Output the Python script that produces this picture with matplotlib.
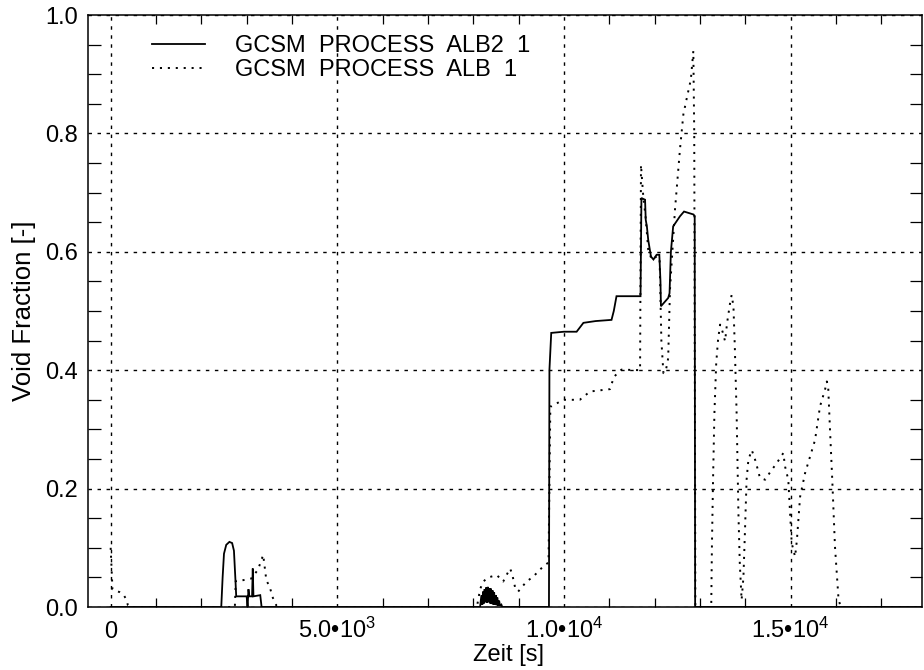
import matplotlib
matplotlib.use('Agg')
import matplotlib.pyplot as plt
from matplotlib.ticker import FixedLocator, MultipleLocator, FuncFormatter

plt.rcParams['font.family'] = ['Liberation Sans', 'DejaVu Sans']
plt.rcParams['mathtext.fontset'] = 'custom'
plt.rcParams['mathtext.rm'] = 'Liberation Sans'
plt.rcParams['mathtext.it'] = 'Liberation Sans'
plt.rcParams['mathtext.bf'] = 'Liberation Sans:bold'
plt.rcParams['lines.scale_dashes'] = False

# ---------------- data ----------------
label_alb2 = 'GCSM  PROCESS  ALB2  1'
label_alb = 'GCSM  PROCESS  ALB  1'

t_alb2 = [0, 2440, 2470, 2500, 2550, 2620, 2680, 2720, 2750, 2770, 2800,
          3000, 3020, 3040, 3060, 3120, 3135, 3150, 3300, 3330, 3350,
          8150, 8180, 8200, 8215, 8235, 8250, 8270, 8285, 8305, 8320, 8340,
          8355, 8375, 8390, 8410, 8425, 8445, 8460, 8480, 8495, 8515, 8530,
          8550, 8570, 8590, 8620, 8640,
          9670, 9680, 9720, 10000, 10280, 10350, 10430, 10700, 11050, 11100,
          11160, 11400, 11690, 11710, 11730, 11790, 11805, 11830, 11860,
          11920, 11975, 12045, 12105, 12130, 12140, 12300, 12330, 12360,
          12410, 12560, 12650, 12860, 12885, 12895, 17900]
v_alb2 = [0.0, 0.0, 0.05, 0.09, 0.105, 0.11, 0.108, 0.095, 0.05, 0.018, 0.018,
          0.018, 0.0, 0.03, 0.018, 0.018, 0.065, 0.018, 0.02, 0.0, 0.0,
          0.0, 0.02, 0.004, 0.026, 0.006, 0.03, 0.008, 0.033, 0.007, 0.034,
          0.008, 0.032, 0.006, 0.031, 0.005, 0.028, 0.004, 0.025, 0.004,
          0.02, 0.003, 0.016, 0.002, 0.011, 0.002, 0.004, 0.0,
          0.0, 0.40, 0.463, 0.465, 0.465, 0.472, 0.480, 0.483, 0.485, 0.50,
          0.525, 0.525, 0.525, 0.691, 0.69, 0.688, 0.654, 0.643, 0.62,
          0.592, 0.587, 0.595, 0.595, 0.55, 0.508, 0.522, 0.53, 0.60,
          0.643, 0.66, 0.668, 0.663, 0.66, 0.0, 0.0]

t_alb = [0, 40, 200, 290, 350, 380, 420, 2740, 2760, 2900, 3100, 3250, 3365, 3435,
         3510, 3570, 3660, 3700, 8080, 8150, 8220, 8330, 8430, 8515, 8600,
         8660, 8735, 8810, 8850, 8880, 8920, 8990, 9175, 9320, 9470, 9580,
         9660, 9700, 9730, 9980, 10350, 10575, 11015, 11105, 11270, 11680,
         11700, 11750, 11800, 11860, 11935, 12045, 12110, 12150, 12195,
         12250, 12300, 12340, 12450, 12560, 12635, 12720, 12800, 12855,
         12875, 12900, 13250, 13265, 13290, 13320, 13360, 13400, 13445,
         13500, 13555, 13600, 13665, 13700, 13740, 13770, 13810, 13850,
         13880, 13920, 13960, 13995, 14030, 14070, 14145, 14230, 14325,
         14440, 14560, 14695, 14840, 14880, 14950, 14990, 15025, 15100,
         15140, 15210, 15320, 15430, 15540, 15650, 15760, 15800, 15830,
         15870, 15920, 15980, 16055, 16100, 17900]
v_alb = [0.10, 0.03, 0.025, 0.02, 0.012, 0.003, 0.0, 0.0, 0.044, 0.045, 0.048, 0.063,
         0.088, 0.045, 0.034, 0.017, 0.002, 0.0, 0.0, 0.03, 0.043, 0.05,
         0.052, 0.054, 0.048, 0.043, 0.054, 0.065, 0.058, 0.048, 0.034,
         0.026, 0.043, 0.051, 0.063, 0.071, 0.075, 0.339, 0.339, 0.35, 0.35,
         0.364, 0.368, 0.389, 0.401, 0.40, 0.747, 0.694, 0.66, 0.604, 0.587,
         0.592, 0.59, 0.45, 0.395, 0.40, 0.42, 0.536, 0.671, 0.773, 0.832,
         0.863, 0.891, 0.939, 0.80, 0.0, 0.0, 0.102, 0.215, 0.327, 0.412,
         0.451, 0.477, 0.465, 0.449, 0.48, 0.513, 0.527, 0.508, 0.44, 0.327,
         0.158, 0.074, 0.012, 0.05, 0.13, 0.215, 0.249, 0.265, 0.246, 0.218,
         0.215, 0.229, 0.243, 0.26, 0.237, 0.215, 0.158, 0.108, 0.085, 0.113,
         0.186, 0.226, 0.254, 0.282, 0.339, 0.367, 0.381, 0.372, 0.30, 0.215,
         0.102, 0.017, 0.0, 0.0]

xtick_vals = [0, 5000, 10000, 15000]
xtick_labels = ['0', '5.0•10$^{3}$', '1.0•10$^{4}$', '1.5•10$^{4}$']
ytick_vals = [0.0, 0.2, 0.4, 0.6, 0.8, 1.0]
ytick_labels = ['0.0', '0.2', '0.4', '0.6', '0.8', '1.0']
x_label = 'Zeit [s]'
y_label = 'Void Fraction [-]'

# ---------------- figure ----------------
FS = 17
fig = plt.figure(figsize=(9.24, 6.70), dpi=100)
ax = fig.add_axes([88 / 924, 63 / 670, 834 / 924, 592 / 670])

ax.plot(t_alb2, v_alb2, color='black', lw=1.3, label=label_alb2,
        solid_joinstyle='miter', zorder=3)
ax.plot(t_alb, v_alb, color='black', lw=1.4, linestyle=(0, (1.5, 4.2)),
        label=label_alb, zorder=3)

ax.set_xlim(-500, 17900)
ax.set_ylim(0, 1)

ax.xaxis.set_major_locator(FixedLocator(xtick_vals))
ax.xaxis.set_major_formatter(FuncFormatter(
    lambda v, p: xtick_labels[xtick_vals.index(v)] if v in xtick_vals else ''))
ax.xaxis.set_minor_locator(MultipleLocator(1000))
ax.yaxis.set_major_locator(FixedLocator(ytick_vals))
ax.yaxis.set_major_formatter(FuncFormatter(
    lambda v, p: ytick_labels[min(range(len(ytick_vals)), key=lambda i: abs(ytick_vals[i] - v))]))
ax.yaxis.set_minor_locator(MultipleLocator(0.05))

ax.grid(True, which='major', color='black', lw=1.0, linestyle=(0, (2.5, 4.0)))
ax.set_axisbelow(False)

ax.tick_params(axis='both', which='major', length=0, direction='in', labelsize=FS)
ax.tick_params(axis='x', which='major', pad=22)
ax.tick_params(axis='y', which='major', pad=7)
ax.tick_params(axis='x', which='minor', length=6.5, width=0.9, direction='in',
               top=True, bottom=True)
ax.tick_params(axis='y', which='minor', length=9, width=0.9, direction='in',
               left=True, right=True)
for lbl in ax.get_xticklabels():
    lbl.set_verticalalignment('baseline')

for s in ax.spines.values():
    s.set_linewidth(1.1)
    s.set_color('black')

ax.set_xlabel(x_label, fontsize=FS)
ax.xaxis.set_label_coords(0.504, -0.062)
ax.set_ylabel(y_label, fontsize=18.5)
ax.yaxis.set_label_coords(-0.062, 0.5)

leg = ax.legend(loc='upper left', bbox_to_anchor=(0.0767, 0.966), frameon=False,
                fontsize=FS, handlelength=2.25, handletextpad=1.27,
                borderpad=0, borderaxespad=0, labelspacing=0.1)

fig.savefig('out.png', dpi=100)
